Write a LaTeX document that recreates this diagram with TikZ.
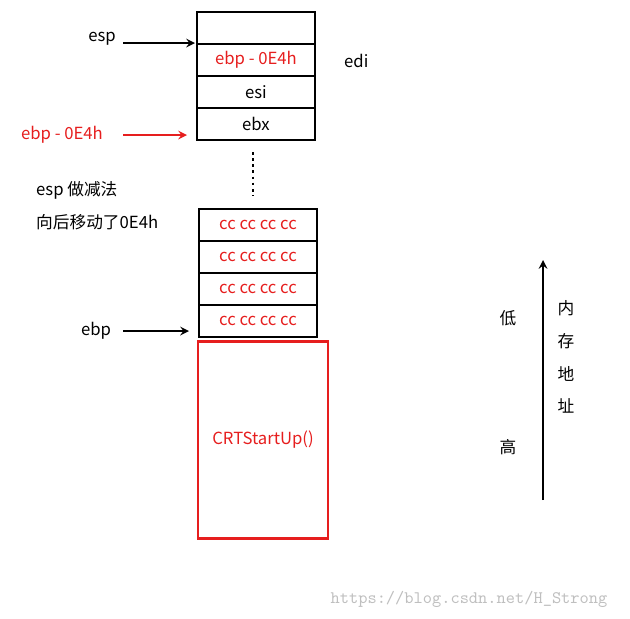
\documentclass[tikz,border=0pt]{standalone}
\usepackage{fontspec}
\setmainfont{Noto Sans CJK SC}
\usetikzlibrary{positioning}
\definecolor{memred}{RGB}{230,30,30}
\tikzset{
  cell/.style={draw, line width=1.5pt, minimum width=118*0.02cm, minimum height=32*0.02cm, inner sep=0pt},
  lbl/.style={font=\fontsize{9.5}{11}\selectfont},
  ptr/.style={->, line width=1.2pt, >=stealth},
}
\begin{document}
\begin{tikzpicture}[x=0.02cm, y=-0.02cm]
    \useasboundingbox (0,0) rectangle (630,619);

    % Upper part of the stack
    \node[cell] (top) at (256,28) {};
    \node[cell, below=-1.5pt of top, lbl, text=memred] (edi) {ebp - 0E4h};
    \node[cell, below=-1.5pt of edi, lbl] (esi) {esi};
    \node[cell, below=-1.5pt of esi, lbl] (ebx) {ebx};
    \node[lbl, anchor=west] (edilbl) at (338,61) {edi};

    % Gap
    \draw[line width=1.5pt, dotted] (253,152) -- (253,196);

    % Local variables
    \node[cell, lbl, text=memred] (cc1) at (258,225) {cc cc cc cc};
    \node[cell, below=-1.5pt of cc1, lbl, text=memred] (cc2) {cc cc cc cc};
    \node[cell, below=-1.5pt of cc2, lbl, text=memred] (cc3) {cc cc cc cc};
    \node[cell, below=-1.5pt of cc3, lbl, text=memred] (cc4) {cc cc cc cc};

    % Caller frame
    \node[draw=memred, line width=1.2pt, minimum width=130*0.02cm, minimum height=197*0.02cm,
          lbl, text=memred] (crt) at (263,440) {CRTStartUp()};

    % Pointers
    \node[lbl] (esp) at (102,39) {esp};
    \draw[ptr] (123,43) -- (195,43);
    \node[lbl, text=memred] (ebpsub) at (62,135) {ebp - 0E4h};
    \draw[ptr, memred] (123,135) -- (187,135);
    \node[lbl] (ebp) at (96,331) {ebp};
    \draw[ptr] (123,331) -- (189,331);
    \node[lbl, anchor=west] (note1) at (30,190) {esp 做减法};
    \node[lbl, anchor=west] (note2) at (30,222) {向后移动了0E4h};

    % Address direction
    \draw[ptr] (543,500) -- (543,260);
    \node[lbl] (low) at (508,318) {低};
    \node[lbl] (high) at (508,447) {高};
    \foreach \ch [count=\i] in {内,存,地,址}
        \node[lbl] (addr\i) at (566,276+32.5*\i) {\ch};

    % Watermark
    \node[text=black!25, font=\fontsize{10}{12}\selectfont\ttfamily] (mark) at (469,599) {https://blog.csdn.net/H\_Strong};
\end{tikzpicture}
\end{document}
